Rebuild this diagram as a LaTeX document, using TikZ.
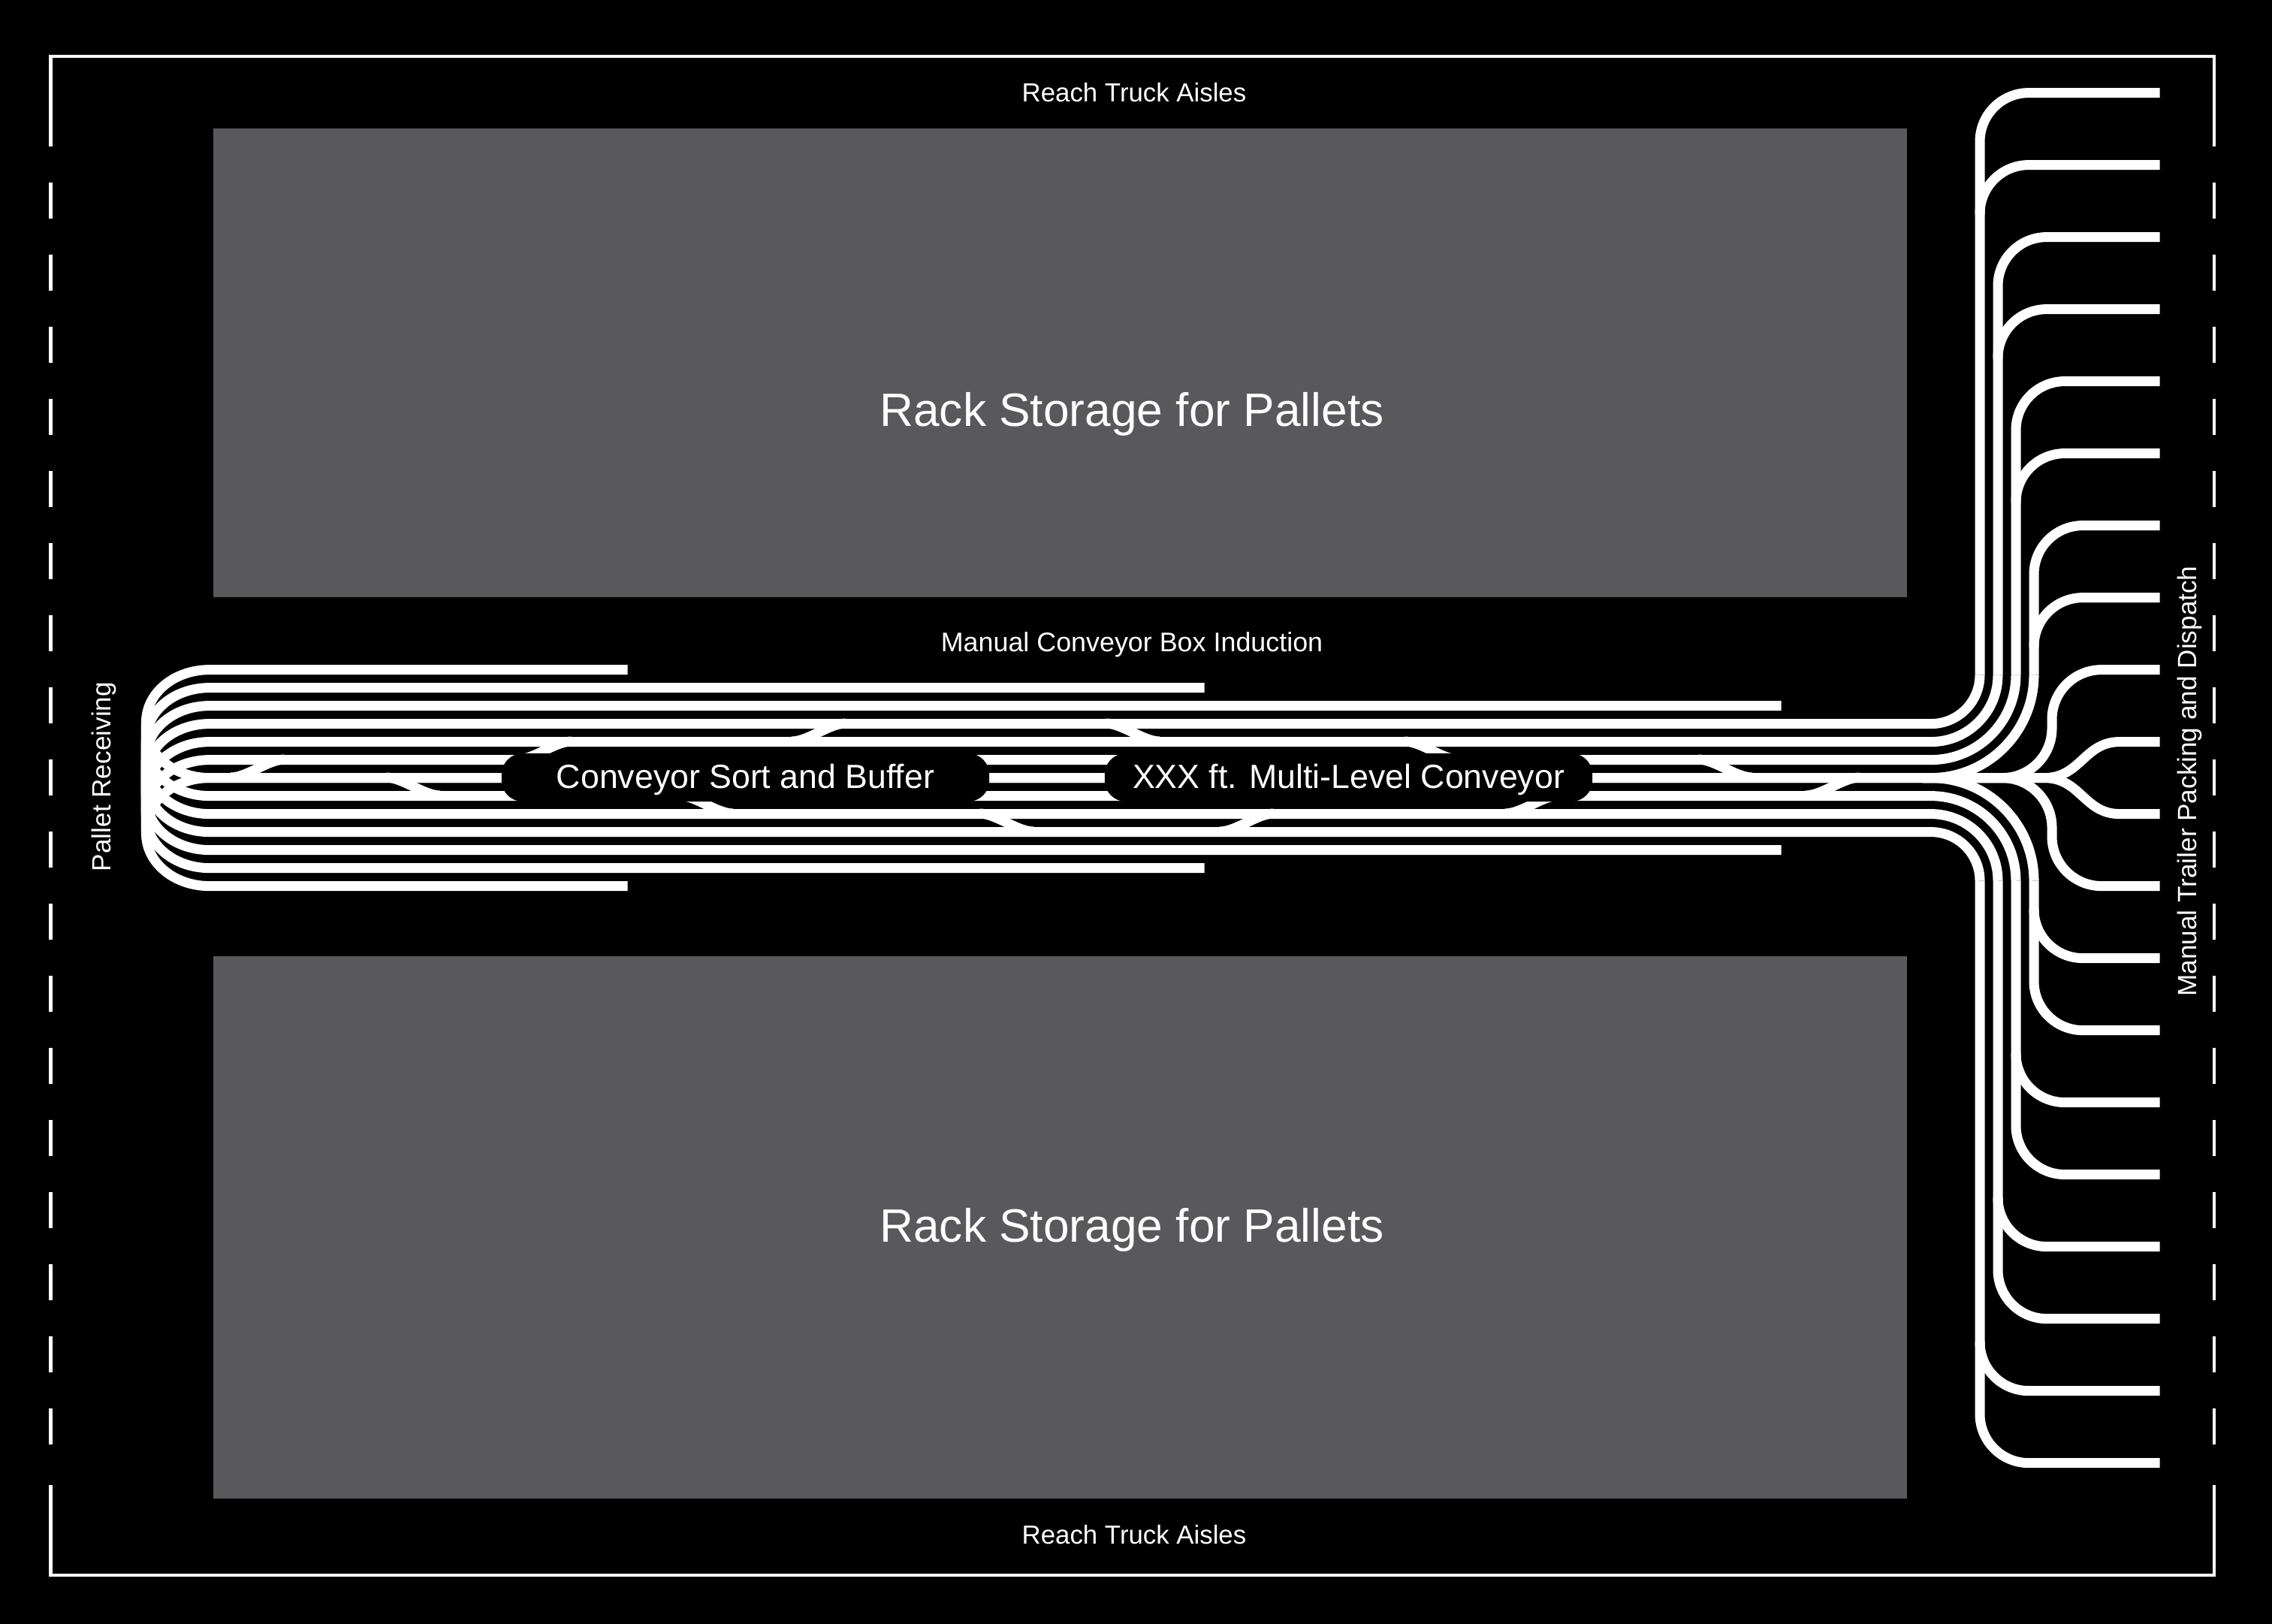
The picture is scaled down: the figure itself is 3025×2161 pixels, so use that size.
\documentclass[tikz,border=0pt]{standalone}
\usepackage{fontspec}
\setmainfont{Liberation Sans}
\usetikzlibrary{positioning}
\definecolor{rackgrey}{HTML}{59595B}

\begin{document}
\begin{tikzpicture}[
  x=0.01cm,y=-0.01cm,
  belt/.style={draw=white,line width=0.13cm},
  wall/.style={draw=white,line width=0.045cm},
  rack/.style={fill=rackgrey},
  pill/.style={fill=black,text=white,rounded corners=0.28cm,inner sep=0pt,
               minimum height=0.64cm,minimum width=6.49cm,
               font=\fontsize{12.7}{15}\selectfont},
  racklabel/.style={text=white,font=\fontsize{17.7}{20}\selectfont},
  smalllabel/.style={text=white,font=\fontsize{10}{12}\selectfont}]

\useasboundingbox (0,0) rectangle (3025,2161);
\fill[black] (-10,-10) rectangle (3035,2171);

% ============ Building outline, dock doors on both short walls ============
\draw[wall] (67.6,195) -- (67.6,75) -- (2948,75) -- (2948,195);
\draw[wall] (67.6,1977) -- (67.6,2097) -- (2948,2097) -- (2948,1977);
\foreach \n in {0,...,17} {
  \draw[wall] (67.6,243+96*\n) -- (67.6,291+96*\n);
  \draw[wall] (2948,243+96*\n) -- (2948,291+96*\n);
}

% ============ Storage blocks ============
\fill[rack] (284,171) rectangle (2539,795);
\fill[rack] (284,1273) rectangle (2539,1995);
\node[racklabel] (racktop) at (1507,551) {Rack Storage for Pallets};
\node[racklabel] (rackbottom) at (1507,1637) {Rack Storage for Pallets};

% ============ Conveyor lines, top half drawn and then mirrored ============
\foreach \flip in {1,-1} {
\begin{scope}[yshift=-10.35cm,yscale=\flip]
  % lines that stop short in the aisle
  \foreach \row/\xend in {6/835.5,5/1603.5,4/2371.5} {
    \draw[belt] (194.5,0) -- (194.5,-24*\row+70)
      .. controls (194.5,-24*\row+31) and (232,-24*\row) .. (279,-24*\row)
      -- (\xend,-24*\row);
  }
  % lines that run through to the dispatch side
  \foreach \row/\vx/\rad in {3/2636/0.65cm,2/2660/0.89cm,1/2684/1.13cm,0/2708/1.37cm} {
    \draw[belt] (194.5,0) -- (194.5,-24*\row+70)
      .. controls (194.5,-24*\row+31) and (232,-24*\row) .. (279,-24*\row)
      [rounded corners=\rad] -| (\vx,-137);
  }
  % dispatch lanes, two to a riser
  \foreach \vx/\ya/\yb in {2636/-912/-816,2660/-720/-624,2684/-528/-432,2708/-336/-240} {
    \draw[belt,rounded corners=0.65cm] (2875.5,\ya) -| (\vx,-137);
    \draw[belt,rounded corners=0.65cm] (2875.5,\yb) -| (\vx,\yb+66);
  }
  \draw[belt,rounded corners=0.66cm] (2875.5,-144) -| (2732,0) -- (2560,0);
  \draw[belt] (2875.5,-48) -- (2822,-48)
    .. controls (2775,-48) and (2770,0) .. (2722,0) -- (2560,0);
\end{scope}
}

% ============ Switches between neighbouring lines ============
\foreach \cx/\ya/\yb in {343/1035/1011,550/1035/1059,725/1011/987,940/1059/1083,
                         1090/987/963,1340/1083/1107,1508/963/987,1660/1107/1083,
                         1906/987/1011,2040/1083/1059,2297/1011/1035,2440/1059/1035} {
  \draw[belt] (\cx-36,\ya) .. controls (\cx-14,\ya) and (\cx+14,\yb) .. (\cx+36,\yb);
}

% ============ Labels over the lines ============
\node[pill] (sortbuffer) at (992.5,1035)
  {\raisebox{-0.147cm}[0pt][0pt]{Conveyor Sort and Buffer}};
\node[pill] (multilevel) at (1795.5,1035)
  {\raisebox{-0.147cm}[0pt][0pt]{XXX ft. Multi-Level Conveyor}};
\node[smalllabel,font=\fontsize{9.9}{12}\selectfont] (aisletop) at (1510,123) {Reach Truck Aisles};
\node[smalllabel,font=\fontsize{9.9}{12}\selectfont] (aislebottom) at (1510,2043) {Reach Truck Aisles};
\node[smalllabel,font=\fontsize{10.2}{12}\selectfont] (induction) at (1507,858) {Manual Conveyor Box Induction};
\node[smalllabel] (receiving) [rotate=90] at (138,1034) {Pallet Receiving};
\node[smalllabel] (dispatch) [rotate=90] at (2915,1040) {Manual Trailer Packing and Dispatch};

\end{tikzpicture}
\end{document}
